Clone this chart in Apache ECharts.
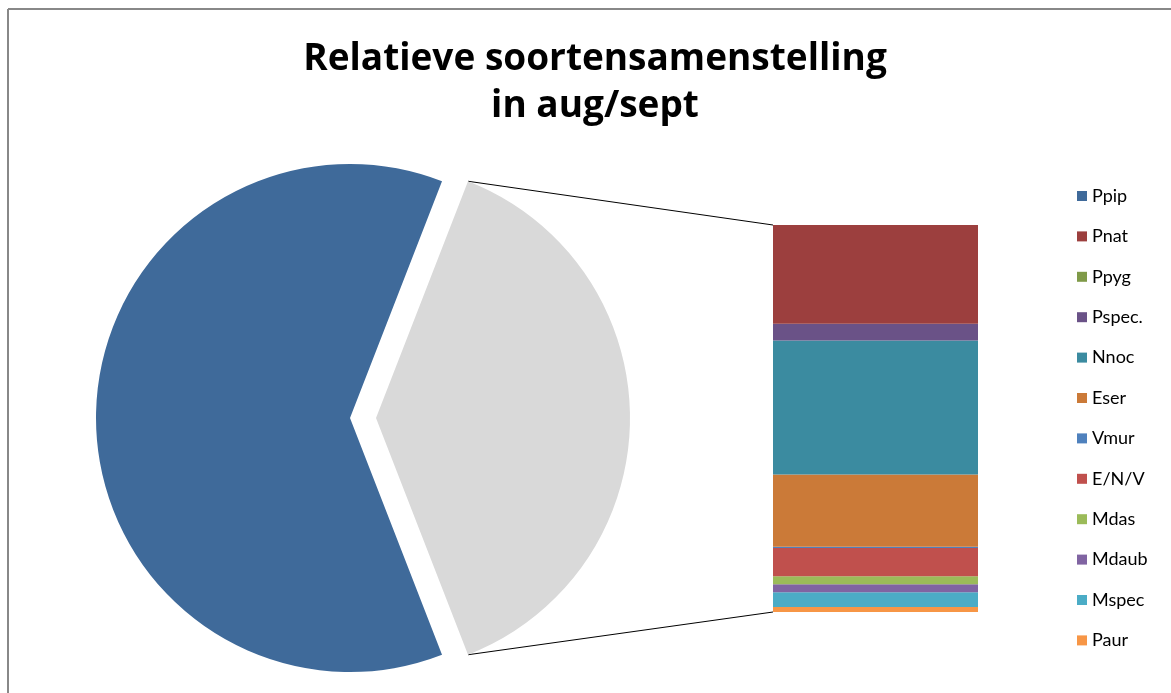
<!DOCTYPE html>
<html>
<head>
<meta charset="utf-8">
<script src="https://cdn.jsdelivr.net/npm/echarts@6/dist/echarts.min.js"></script>
<style>
  html, body { margin: 0; padding: 0; background: #fff; }
  #chart { width: 1171px; height: 693px; }
</style>
</head>
<body>
<div id="chart"></div>
<script>
// soorten in de staaf (van boven naar beneden), percentages
const barNames = ['Pnat', 'Ppyg', 'Pspec.', 'Nnoc', 'Eser', 'Vmur', 'E/N/V', 'Mdas', 'Mdaub', 'Mspec', 'Paur']
const barValues = [9.74, 0, 1.65, 13.23, 7.14, 0.13, 2.79, 0.79, 0.79, 1.45, 0.49]
const barColors = ['#9c3f3e', '#7f9a48', '#6a5287', '#3b8ba0', '#cb7a38', '#4f81bd', '#c0504d', '#9bbb59', '#8064a2', '#4bacc6', '#f79646']

// taart
const pieName = 'Ppip'
const pieValue = 61.8
const pieColor = '#3f6a9a'
const otherColor = '#d9d9d9'

const legendNames = ['Ppip', 'Pnat', 'Ppyg', 'Pspec.', 'Nnoc', 'Eser', 'Vmur', 'E/N/V', 'Mdas', 'Mdaub', 'Mspec', 'Paur']
const titleText = 'Relatieve soortensamenstelling\nin aug/sept'

const otherSum = barValues.reduce((s, v) => s + v, 0)
const otherAngle = 360 * otherSum / (otherSum + pieValue)

// layout
const pieCenter = [350, 418]
const pieRadius = 254
const explode = 26
const grid = { left: 773, top: 225, width: 205, height: 387 }

const chart = echarts.init(document.getElementById('chart'))

// staaf: onderste soort eerst stapelen
const barSeries = barNames.map((name, i) => ({
  name: name,
  type: 'bar',
  stack: 'overig',
  data: [barValues[i]],
  barWidth: '100%',
  itemStyle: { color: barColors[i] },
  emphasis: { disabled: true }
})).reverse()

// verbindingslijnen van het uitgetrokken stuk naar de staaf
const half = otherAngle / 2 * Math.PI / 180
const vx = pieCenter[0] + explode
const vy = pieCenter[1]
const topPt = [vx + pieRadius * Math.cos(half), vy - pieRadius * Math.sin(half)]
const botPt = [vx + pieRadius * Math.cos(half), vy + pieRadius * Math.sin(half)]

chart.setOption({
  animation: false,
  legend: {
    orient: 'vertical',
    left: 1072,
    top: 181,
    icon: 'rect',
    itemWidth: 10,
    itemHeight: 10,
    itemGap: 20.4,
    selectedMode: false,
    data: legendNames,
    textStyle: { fontFamily: 'Lato', fontSize: 18, color: '#000', lineHeight: 20 }
  },
  grid: grid,
  xAxis: { type: 'category', data: ['overig'], show: false },
  yAxis: { type: 'value', min: 0, max: otherSum, show: false },
  graphic: [
    { type: 'line', shape: { x1: 8, y1: 9, x2: 1171, y2: 9 }, style: { stroke: '#888', lineWidth: 2 } },
    { type: 'line', shape: { x1: 8, y1: 9, x2: 8, y2: 693 }, style: { stroke: '#888', lineWidth: 2 } },
    { type: 'line', shape: { x1: topPt[0], y1: topPt[1], x2: grid.left, y2: grid.top }, style: { stroke: '#000', lineWidth: 1 } },
    { type: 'line', shape: { x1: botPt[0], y1: botPt[1], x2: grid.left, y2: grid.top + grid.height }, style: { stroke: '#000', lineWidth: 1 } },
    {
      type: 'text',
      x: 595,
      y: 36,
      style: {
        text: titleText,
        align: 'center',
        verticalAlign: 'top',
        fontFamily: 'Open Sans',
        fontSize: 37,
        fontWeight: 'bold',
        lineHeight: 47,
        fill: '#000'
      }
    }
  ],
  series: [
    {
      type: 'pie',
      center: pieCenter,
      radius: pieRadius,
      startAngle: otherAngle / 2,
      selectedMode: 'single',
      selectedOffset: explode,
      label: { show: false },
      labelLine: { show: false },
      emphasis: { disabled: true },
      data: [
        { name: 'Overig', value: otherSum, selected: true, itemStyle: { color: otherColor } },
        { name: pieName, value: pieValue, itemStyle: { color: pieColor } }
      ]
    }
  ].concat(barSeries)
})
</script>
</body>
</html>
